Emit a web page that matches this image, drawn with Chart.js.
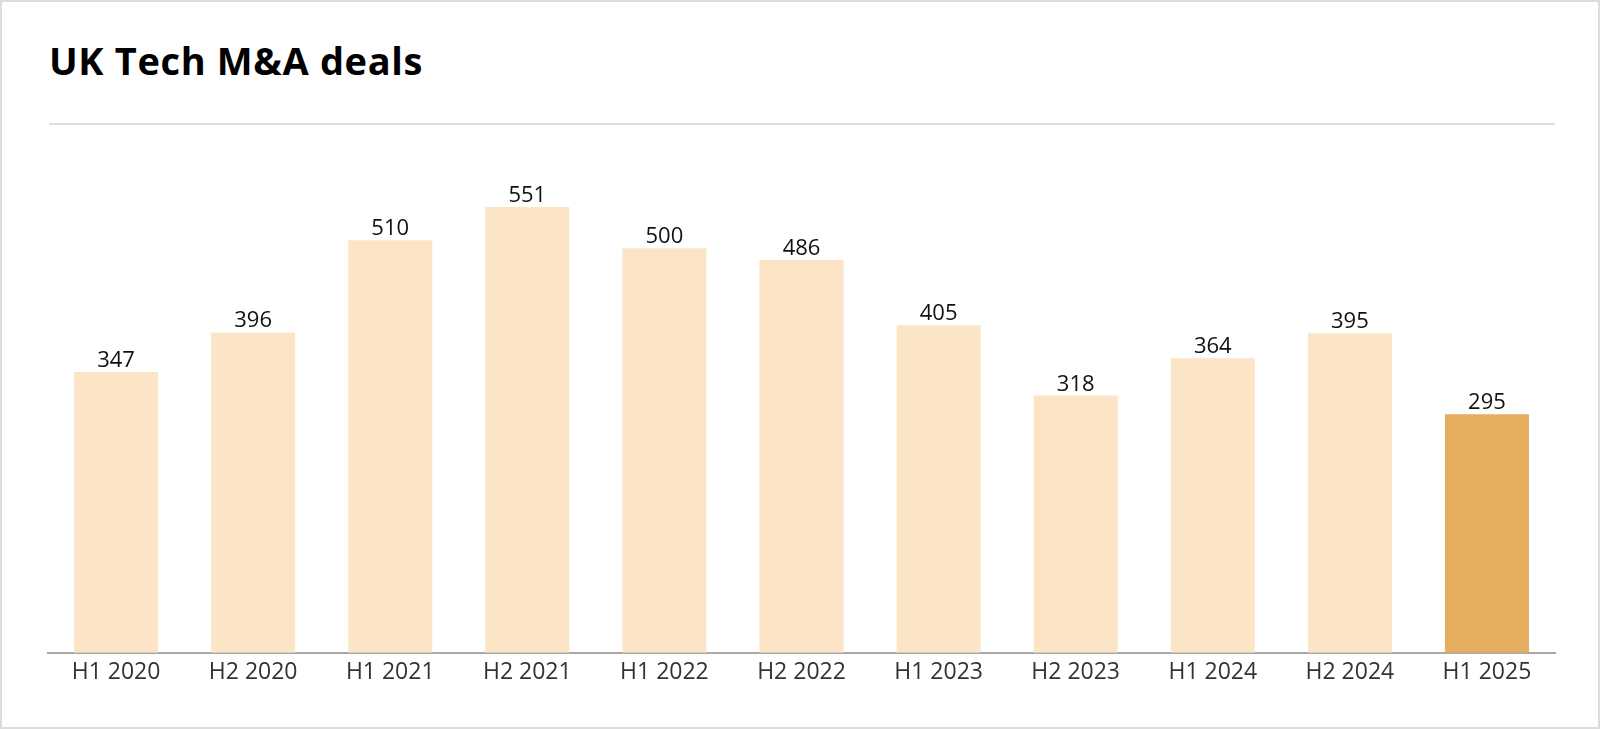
<!DOCTYPE html>
<html>
<head>
<meta charset="utf-8">
<script src="https://cdn.jsdelivr.net/npm/chart.js@4.4.1/dist/chart.umd.min.js"></script>
<style>
  html, body { margin: 0; padding: 0; background: #fff; }
  .frame {
    position: relative;
    width: 1600px;
    height: 729px;
    box-sizing: border-box;
    border: 2px solid #dcdcdc;
    overflow: hidden;
  }
  .title {
    position: absolute;
    left: 47px;
    top: 39px;
    margin: 0;
    font-family: "Open Sans", Lato, sans-serif;
    font-weight: 700;
    font-size: 38px;
    letter-spacing: 0.65px;
    line-height: 1;
    color: #000;
  }
  .rule {
    position: absolute;
    left: 47px;
    top: 121px;
    width: 1506px;
    height: 2px;
    background: #dedede;
  }
  #chart { position: absolute; left: -2px; top: -2px; }
</style>
</head>
<body>
<div class="frame">
  <h1 class="title">UK Tech M&amp;A deals</h1>
  <div class="rule"></div>
  <canvas id="chart" width="1600" height="729"></canvas>
</div>
<script>
// data
const periods = ["H1 2020", "H2 2020", "H1 2021", "H2 2021", "H1 2022", "H2 2022",
  "H1 2023", "H2 2023", "H1 2024", "H2 2024", "H1 2025"];
const deals = [347, 396, 510, 551, 500, 486, 405, 318, 364, 395, 295];
const highlight = "H1 2025";

const lightColor = "#fce5c7";
const darkColor = "#e5ad5d";

const FONT = "'Open Sans', Lato, sans-serif";

// draws the number above each bar
const valueLabels = {
  id: "valueLabels",
  afterDatasetsDraw(chart) {
    const ctx = chart.ctx;
    const meta = chart.getDatasetMeta(0);
    ctx.save();
    ctx.font = "400 22px " + FONT;
    ctx.fillStyle = "#111";
    ctx.textAlign = "center";
    ctx.textBaseline = "alphabetic";
    meta.data.forEach((bar, i) => {
      ctx.fillText(String(deals[i]), bar.x, bar.y - 5);
    });
    ctx.restore();
  },
};

new Chart(document.getElementById("chart"), {
  type: "bar",
  data: {
    labels: periods,
    datasets: [
      {
        data: deals,
        backgroundColor: periods.map((p) => (p === highlight ? darkColor : lightColor)),
        borderWidth: 0,
        categoryPercentage: 1,
        barPercentage: 0.613,
      },
    ],
  },
  options: {
    responsive: false,
    animation: false,
    layout: {
      padding: { left: 47.5, right: 44.5, top: 125, bottom: 36.6 },
    },
    plugins: {
      legend: { display: false },
      tooltip: { enabled: false },
    },
    scales: {
      x: {
        grid: { display: false, drawTicks: false },
        border: { display: true, color: "#a8a8a8", width: 2 },
        ticks: {
          color: "#333",
          font: { family: FONT, size: 23 },
          padding: 6,
          maxRotation: 0,
        },
      },
      y: {
        display: false,
        min: 0,
        max: 652.5,
      },
    },
  },
  plugins: [valueLabels],
});
</script>
</body>
</html>
